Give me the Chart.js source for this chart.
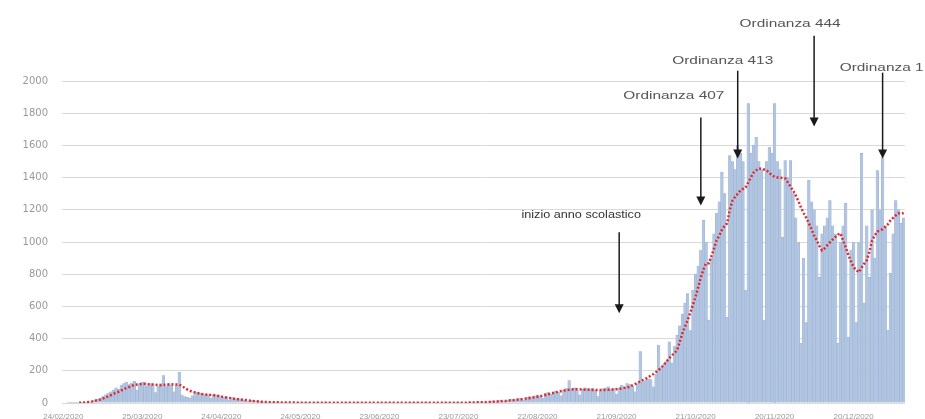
<!DOCTYPE html>
<html>
<head>
<meta charset="utf-8">
<script src="https://cdn.jsdelivr.net/npm/chart.js@4.4.1/dist/chart.umd.min.js"></script>
<style>
  html, body { margin: 0; padding: 0; background: #fff; overflow: hidden; }
  .chart-container { position: absolute; left: 0; top: 0; width: 925px; height: 430px; }
</style>
</head>
<body>
<div class="chart-container"><canvas id="c"></canvas></div>
<script>
// daily new cases, one row per week (weeks start on Monday 24/02/2020)
const newCases = [
  0, 0, 1, 1, 2, 2, 3,
  2, 4, 6, 8, 12, 18, 25,
  30, 40, 50, 62, 70, 78, 95,
  85, 110, 120, 130, 115, 125, 135,
  80, 120, 130, 125, 105, 120, 115,
  65, 105, 120, 170, 105, 120, 110,
  70, 110, 190, 50, 40, 35, 30,
  45, 70, 65, 60, 55, 50, 52,
  30, 52, 50, 45, 40, 35, 36,
  18, 34, 30, 26, 24, 20, 19,
  9, 17, 15, 13, 11, 9, 8,
  4, 7, 6, 5, 5, 4, 4,
  2, 4, 3, 3, 3, 2, 2,
  1, 2, 1, 3, 2, 1, 1,
  0, 1, 2, 1, 0, 1, 1,
  0, 2, 1, 1, 1, 0, 1,
  1, 0, 1, 2, 0, 1, 0,
  0, 1, 0, 1, 1, 2, 1,
  0, 1, 1, 0, 2, 1, 1,
  1, 2, 1, 0, 1, 1, 2,
  0, 1, 2, 3, 1, 2, 2,
  1, 3, 2, 4, 2, 3, 2,
  2, 5, 4, 6, 5, 7, 6,
  4, 10, 12, 9, 14, 15, 13,
  10, 18, 22, 20, 25, 28, 24,
  18, 35, 40, 38, 45, 50, 42,
  30, 60, 65, 55, 70, 75, 68,
  45, 80, 90, 140, 85, 95, 80,
  50, 85, 95, 90, 88, 92, 80,
  40, 80, 90, 95, 100, 85, 90,
  55, 95, 110, 100, 120, 115, 105,
  70, 120, 320, 130, 140, 150, 145,
  100, 180, 360, 220, 240, 260, 380,
  250, 350, 420, 480, 550, 620, 680,
  450, 700, 800, 850, 950, 1134, 1000,
  515, 900, 1050, 1180, 1250, 1432, 1300,
  533, 1537, 1500, 1450, 1600, 1550, 1500,
  700, 1860, 1550, 1600, 1650, 1500, 1450,
  515, 1500, 1590, 1550, 1860, 1500, 1450,
  1030, 1506, 1400, 1506, 1300, 1150, 1000,
  372, 900, 500, 1383, 1250, 1200, 1100,
  780, 1050, 1100, 1150, 1258, 1100, 1050,
  372, 1000, 1100, 1240, 409, 950, 1000,
  500, 1000, 1550, 620, 1100, 780, 1200,
  900, 1444, 1200, 1525, 1100, 452, 806,
  1050, 1258, 1200, 1116, 1150
];

// 7-day moving average
const movingAvg = [
  null, null, null, null, null, null, 1,
  2, 3, 5, 7, 10, 14, 18,
  21, 27, 34, 41, 48, 56, 64,
  70, 78, 85, 94, 100, 107, 113,
  115, 117, 119, 120, 117, 115, 115,
  113, 111, 110, 114, 113, 115, 116,
  115, 115, 114, 105, 95, 85, 76,
  70, 66, 62, 58, 55, 53, 51,
  50, 49, 46, 43, 40, 37, 34,
  31, 28, 26, 24, 22, 20, 18,
  16, 14, 13, 11, 10, 8, 7,
  6, 5, 5, 4, 4, 4, 3,
  3, 3, 3, 3, 3, 2, 2,
  2, 2, 2, 2, 2, 2, 1,
  1, 1, 1, 1, 1, 1, 1,
  1, 1, 1, 1, 1, 1, 1,
  1, 1, 1, 1, 1, 1, 1,
  1, 1, 1, 1, 1, 1, 1,
  1, 1, 1, 1, 1, 1, 1,
  1, 1, 1, 1, 1, 1, 1,
  1, 1, 1, 1, 1, 2, 2,
  2, 2, 2, 2, 2, 2, 2,
  3, 3, 3, 4, 4, 5, 5,
  6, 7, 8, 9, 10, 11, 12,
  13, 15, 17, 18, 20, 22, 24,
  26, 28, 30, 33, 36, 39, 42,
  46, 50, 54, 58, 62, 66, 70,
  74, 77, 80, 82, 84, 85, 86,
  85, 84, 83, 82, 82, 81, 80,
  80, 80, 81, 81, 82, 83, 84,
  86, 88, 91, 94, 97, 100, 110,
  118, 126, 134, 142, 150, 160, 170,
  180, 192, 205, 220, 238, 258, 278,
  296, 310, 329, 380, 434, 475, 515,
  560, 610, 660, 720, 780, 830, 868,
  868, 910, 960, 1010, 1040, 1075, 1100,
  1116, 1200, 1258, 1280, 1300, 1320, 1330,
  1339, 1370, 1401, 1430, 1445, 1457, 1455,
  1450, 1445, 1430, 1415, 1405, 1401, 1400,
  1398, 1395, 1370, 1345, 1320, 1290, 1255,
  1215, 1180, 1150, 1116, 1080, 1040, 1010,
  975, 948, 960, 980, 998, 1015, 1030,
  1045, 1054, 1010, 967, 920, 880, 843,
  825, 812, 840, 865, 887, 940, 1010,
  1040, 1065, 1072, 1080, 1095, 1110, 1134,
  1150, 1165, 1178, 1175, 1180
];

const tickDates = ['24/02/2020', '25/03/2020', '24/04/2020', '24/05/2020', '23/06/2020',
  '23/07/2020', '22/08/2020', '21/09/2020', '21/10/2020', '20/11/2020', '20/12/2020'];

// one category per day, starting 24/02/2020
const days = [];
for (let i = 0; i < newCases.length; i++) {
  const d = new Date(Date.UTC(2020, 1, 24 + i));
  const dd = String(d.getUTCDate()).padStart(2, '0');
  const mm = String(d.getUTCMonth() + 1).padStart(2, '0');
  days.push(dd + '/' + mm + '/' + d.getUTCFullYear());
}

// arrows with captions
const notes = [
  { text: 'inizio anno scolastico', day: '22/09/2020', textY: 1165, top: 1060, tip: 557, dx: -38, size: 11, sx: 1.15, color: '#333' },
  { text: 'Ordinanza 407', day: '23/10/2020', textY: 1910, top: 1773, tip: 1227, dx: -27, size: 11, sx: 1.4, color: '#555' },
  { text: 'Ordinanza 413', day: '06/11/2020', textY: 2126, top: 2064, tip: 1519, dx: -15, size: 11, sx: 1.4, color: '#555' },
  { text: 'Ordinanza 444', day: '05/12/2020', textY: 2356, top: 2281, tip: 1717, dx: -24, size: 11, sx: 1.4, color: '#555' },
  { text: 'Ordinanza 1', day: '31/12/2020', textY: 2083, top: 2052, tip: 1519, dx: -1, size: 11, sx: 1.4, color: '#555' }
];

const notesPlugin = {
  id: 'notes',
  afterDatasetsDraw(chart) {
    const { ctx, scales: { x, y } } = chart;
    ctx.save();
    notes.forEach(n => {
      const px = x.getPixelForValue(days.indexOf(n.day));
      const top = y.getPixelForValue(n.top);
      const tip = y.getPixelForValue(n.tip);
      ctx.strokeStyle = '#1a1a1a';
      ctx.fillStyle = '#1a1a1a';
      ctx.lineWidth = 1.5;
      ctx.beginPath();
      ctx.moveTo(px, top);
      ctx.lineTo(px, tip - 7);
      ctx.stroke();
      ctx.beginPath();
      ctx.moveTo(px - 4.5, tip - 9);
      ctx.lineTo(px + 4.5, tip - 9);
      ctx.lineTo(px, tip);
      ctx.closePath();
      ctx.fill();

      ctx.save();
      ctx.translate(px + n.dx, y.getPixelForValue(n.textY));
      ctx.scale(n.sx, 1);
      ctx.font = n.size + 'px "Liberation Sans", Arial, sans-serif';
      ctx.textAlign = 'center';
      ctx.textBaseline = 'middle';
      ctx.fillStyle = n.color;
      ctx.fillText(n.text, 0, 0);
      ctx.restore();
    });
    ctx.restore();
  }
};

new Chart(document.getElementById('c'), {
  data: {
    labels: days,
    datasets: [
      {
        type: 'line',
        label: 'Media mobile 7 gg',
        data: movingAvg,
        borderColor: '#e0282e',
        borderWidth: 2.5,
        borderDash: [2, 2],
        pointRadius: 0,
        tension: 0,
        order: 0
      },
      {
        type: 'bar',
        label: 'Nuovi casi',
        data: newCases,
        backgroundColor: '#b3c6e1',
        borderColor: '#93acd0',
        borderWidth: 0.4,
        barPercentage: 1,
        categoryPercentage: 1,
        order: 1
      }
    ]
  },
  options: {
    responsive: true,
    maintainAspectRatio: false,
    animation: false,
    layout: { padding: { top: 81, right: 20, bottom: 7, left: 0 } },
    plugins: {
      legend: { display: false },
      tooltip: { enabled: true }
    },
    scales: {
      x: {
        grid: { display: false, drawTicks: false },
        border: { display: false },
        afterFit: s => { s.height = 20; },
        ticks: {
          autoSkip: false,
          maxRotation: 0,
          padding: 9,
          color: '#999',
          font: { family: '"Liberation Sans", Arial, sans-serif', size: 8 },
          callback: function (value) {
            const lab = this.getLabelForValue(value);
            return tickDates.includes(lab) ? lab : null;
          }
        }
      },
      y: {
        min: 0,
        max: 2000,
        grid: { color: '#d9d9d9', lineWidth: 1, drawTicks: false },
        border: { display: false },
        afterFit: s => { s.width = 62; },
        ticks: {
          stepSize: 200,
          padding: 14,
          color: '#999',
          font: { family: '"DejaVu Sans", sans-serif', size: 10 },
          callback: v => String(v)
        }
      }
    }
  },
  plugins: [notesPlugin]
});
</script>
</body>
</html>
